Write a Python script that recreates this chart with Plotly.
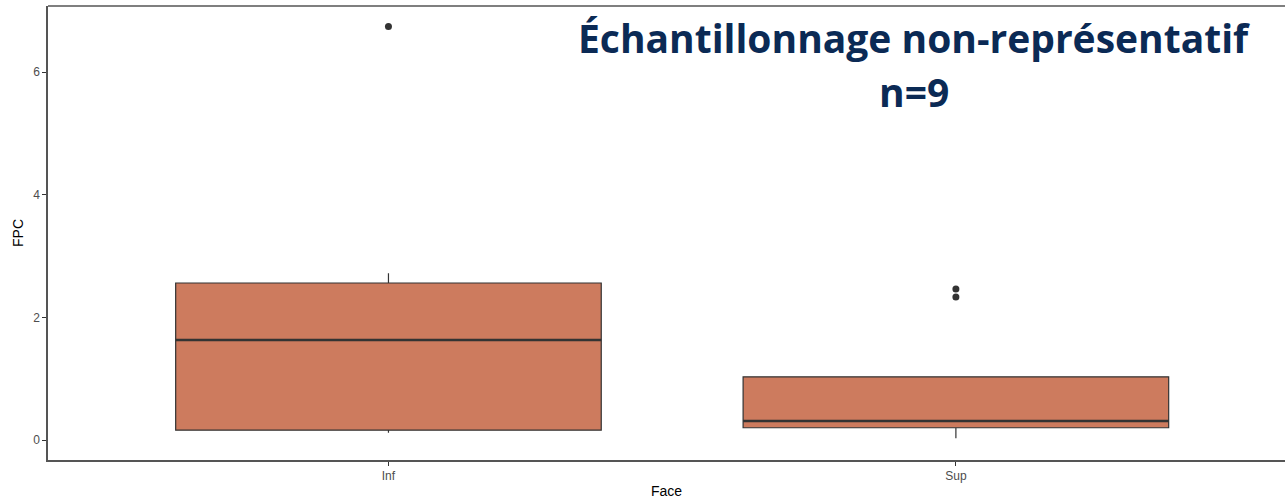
import plotly.graph_objects as go

faces = ["Inf", "Sup"]
q1 = [0.16, 0.20]
medians = [1.63, 0.31]
q3 = [2.56, 1.03]
lower_whisker = [0.12, 0.03]
upper_whisker = [2.72, 1.03]

outlier_face = ["Inf", "Sup", "Sup"]
outlier_fpc = [6.74, 2.46, 2.33]

fill_color = "#CD7B5E"
line_color = "#333333"
title_color = "#0B2A55"
border_color = "#555555"

fig = go.Figure()

fig.add_trace(
    go.Box(
        x=faces,
        q1=q1,
        median=medians,
        q3=q3,
        lowerfence=lower_whisker,
        upperfence=upper_whisker,
        fillcolor=fill_color,
        line=dict(color=line_color, width=1.2),
        whiskerwidth=0,
        width=0.75,
        boxpoints=False,
        showlegend=False,
        hoverinfo="skip",
    )
)

# thicker median bar, like ggplot's fatten
fig.add_trace(
    go.Box(
        x=faces,
        q1=medians,
        median=medians,
        q3=medians,
        lowerfence=medians,
        upperfence=medians,
        fillcolor="rgba(0,0,0,0)",
        line=dict(color=line_color, width=2.6),
        whiskerwidth=0,
        width=0.75,
        boxpoints=False,
        showlegend=False,
    )
)

fig.add_trace(
    go.Scatter(
        x=outlier_face,
        y=outlier_fpc,
        mode="markers",
        marker=dict(color=line_color, size=7),
        showlegend=False,
    )
)

fig.add_annotation(
    text="<b>Échantillonnage non-représentatif</b>",
    xref="paper", yref="paper", x=0.700, y=0.930,
    xanchor="center", yanchor="middle", showarrow=False,
    font=dict(family="Open Sans", size=39, color=title_color),
)
fig.add_annotation(
    text="<b>n=9</b>",
    xref="paper", yref="paper", x=0.700, y=0.811,
    xanchor="center", yanchor="middle", showarrow=False,
    font=dict(family="Open Sans", size=39, color=title_color),
)

# top border of the panel (the right side is cut off in the original)
fig.add_shape(
    type="line", xref="paper", yref="paper",
    x0=0, x1=1.05, y0=1, y1=1,
    line=dict(color=border_color, width=1.5),
)

fig.update_layout(
    width=1285,
    height=504,
    margin=dict(l=48, r=0, t=6, b=44, autoexpand=False),
    paper_bgcolor="white",
    plot_bgcolor="white",
    font=dict(family="Liberation Sans", color="#4D4D4D", size=12),
    boxmode="overlay",
)

fig.update_xaxes(
    type="category",
    range=[-0.6, 1.58],
    showline=True,
    linecolor=border_color,
    linewidth=1.5,
    showgrid=False,
    ticks="outside",
    ticklen=4,
    tickcolor="#333333",
    automargin=False,
    title=dict(text="Face", font=dict(size=14, color="black"), standoff=4),
)
fig.update_yaxes(
    range=[-0.326, 7.076],
    tickvals=[0, 2, 4, 6],
    showline=True,
    linecolor=border_color,
    linewidth=1.5,
    showgrid=False,
    zeroline=False,
    ticks="outside",
    ticklen=4,
    tickcolor="#333333",
    automargin=False,
    title=dict(text="FPC", font=dict(size=14, color="black"), standoff=6),
)

fig.write_html(
    "out.html",
    config={"displayModeBar": False},
    post_script="document.body.style.margin='0';",
)
